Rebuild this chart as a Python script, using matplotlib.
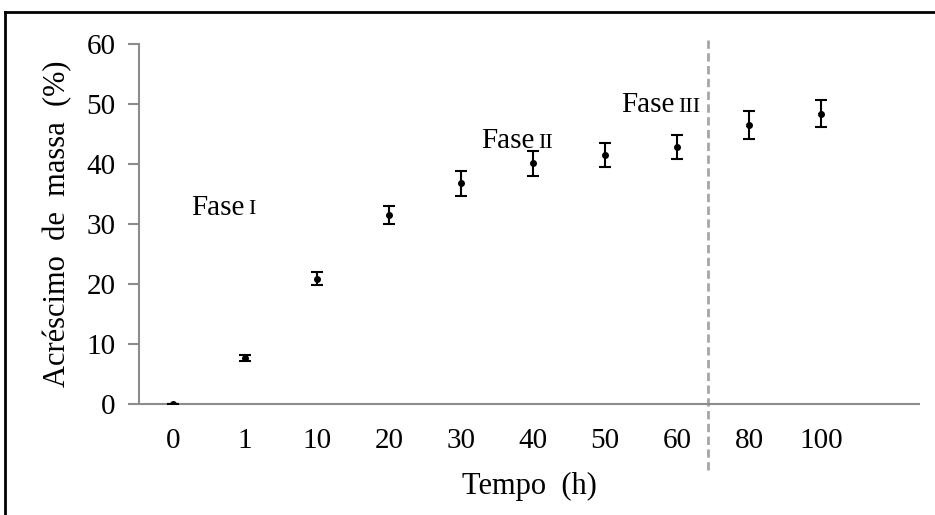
import matplotlib
matplotlib.use("Agg")
import matplotlib.pyplot as plt
from matplotlib.lines import Line2D
import numpy as np

plt.rcParams['font.family'] = ['Liberation Serif', 'DejaVu Serif']

tempo = ["0", "1", "10", "20", "30", "40", "50", "60", "80", "100"]
acrescimo = [0.0, 7.7, 20.9, 31.5, 36.8, 40.1, 41.5, 42.8, 46.5, 48.4]
erro = [0.0, 0.5, 1.05, 1.5, 2.05, 2.05, 2.0, 2.0, 2.3, 2.3]

fases = ["I", "II", "III"]
fase_x = [0.25, 4.28, 6.22]
fase_y = [31.6, 42.6, 48.6]

fig = plt.figure(figsize=(9.35, 5.15), dpi=100)
ax = fig.add_axes([0.1487, 0.215, 0.983 - 0.1487, 0.9146 - 0.215])

x = np.arange(len(tempo))
ax.errorbar(x, acrescimo, yerr=erro, fmt='o', color='black', ms=4,
            elinewidth=1.5, capsize=4, capthick=1.5, zorder=3)

ax.set_xlim(-0.47, 10.36)
ax.set_ylim(0, 60)
ax.set_yticks(range(0, 61, 10))
ax.set_xticks(x)
ax.set_xticklabels(tempo)

gray = '#8c8c8c'
for s in ['top', 'right']:
    ax.spines[s].set_visible(False)
ax.spines['left'].set_color(gray)
ax.spines['bottom'].set_color(gray)
ax.spines['left'].set_linewidth(1.5)
ax.spines['bottom'].set_linewidth(1.5)
ax.tick_params(axis='y', colors=gray, length=8, width=1.5, labelcolor='black',
               labelsize=21, pad=9)
ax.tick_params(axis='x', length=0, labelsize=21, pad=17)

ax.set_ylabel("Acréscimo  de  massa  (%)", fontsize=22, labelpad=10)
ax.set_xlabel("Tempo  (h)", fontsize=22, labelpad=13)

# separation line between 60 and 80
ax.axvline(7.43, ymin=-0.182, ymax=1.011, color='#a6a6a6', lw=2, ls=(0, (3, 1.6)),
           clip_on=False, zorder=1)

for f, fx, fy in zip(fases, fase_x, fase_y):
    t = ax.text(fx, fy, "Fase", fontsize=21, va='baseline', ha='left')
    ax.annotate(f, xy=(1, 0), xycoords=t, xytext=(3, 4.5),
                textcoords='offset points', fontsize=16, va='baseline', ha='left')

# frame lines of the original picture
fig.add_artist(Line2D([5 / 935, 1], [1 - 12 / 515, 1 - 12 / 515], color='black', lw=2))
fig.add_artist(Line2D([5 / 935, 5 / 935], [0, 1 - 12 / 515], color='black', lw=2))

fig.savefig("out.png", dpi=100)
